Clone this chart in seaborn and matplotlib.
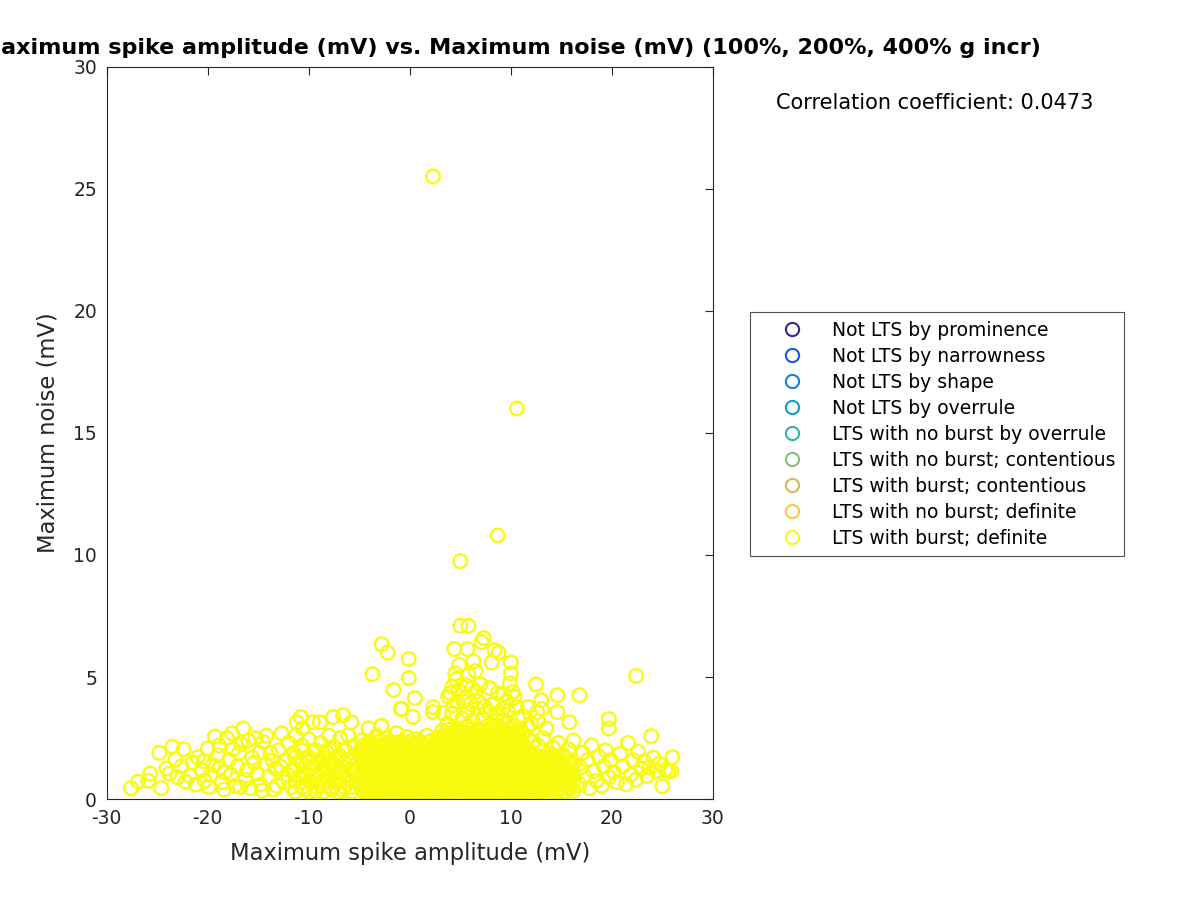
import pandas as pd
import seaborn as sns
import matplotlib.pyplot as plt
from matplotlib.lines import Line2D

# ------------------ data ------------------
# (spike amplitude mV, max noise mV)
far_left = [(-27.6, 0.45), (-26.9, 0.72), (-25.9, 0.75), (-25.7, 1.05), (-24.8, 1.9),
            (-24.6, 0.45), (-24.1, 1.26), (-23.8, 1.05), (-23.5, 2.15), (-23.2, 1.63),
            (-23.0, 0.9), (-22.4, 2.05), (-22.2, 0.72), (-22.6, 1.35), (-21.8, 0.95),
            (-21.5, 1.5), (-21.0, 1.72), (-21.2, 0.6), (-20.6, 1.2), (-20.3, 0.75),
            (-20.0, 2.08), (-20.4, 1.55), (-19.9, 0.5), (-19.7, 1.0)]

left = [(-19.3, 2.57), (-19.0, 1.8), (-18.8, 1.3), (-18.6, 0.7), (-18.4, 0.4), (-18.1, 2.5),
        (-17.9, 1.6), (-17.7, 1.0), (-17.6, 2.7), (-17.3, 0.55), (-17.1, 1.35), (-16.9, 1.9),
        (-16.7, 2.25), (-16.5, 2.9), (-16.3, 0.8), (-16.1, 1.2), (-15.8, 0.45), (-15.6, 1.7),
        (-15.3, 2.5), (-15.1, 1.05), (-14.8, 0.6), (-14.5, 2.34), (-14.3, 1.45), (-14.0, 0.9),
        (-13.8, 1.9), (-13.5, 0.4), (-13.3, 1.25), (-13.0, 2.0), (-12.7, 2.7), (-12.5, 0.7),
        (-12.3, 1.6), (-12.1, 1.0), (-12.0, 2.3), (-19.5, 1.4), (-18.9, 2.2), (-18.3, 1.1),
        (-17.5, 2.05), (-16.8, 0.5), (-16.0, 2.4), (-15.4, 1.5), (-14.9, 1.9), (-14.6, 0.35),
        (-14.2, 2.6), (-13.6, 1.6), (-13.2, 0.55), (-12.8, 1.35)]

center_left = [(-11.7, 0.5), (-11.6, 1.2), (-11.5, 1.9), (-11.3, 2.6), (-11.2, 3.15), (-11.0, 0.9),
               (-10.9, 1.55), (-10.8, 3.36), (-10.7, 2.2), (-10.6, 2.9), (-10.4, 0.4), (-10.3, 1.0),
               (-10.2, 1.7), (-10.0, 2.45), (-9.8, 0.7), (-9.7, 1.3), (-9.6, 3.15), (-9.5, 2.0),
               (-9.3, 0.35), (-9.2, 1.05), (-9.0, 1.6), (-8.9, 3.15), (-8.8, 2.3), (-8.6, 0.6),
               (-8.5, 1.35), (-8.3, 1.95), (-8.1, 0.9), (-8.0, 2.6), (-7.8, 0.4), (-7.7, 1.5),
               (-7.6, 3.36), (-7.5, 2.15), (-7.3, 1.1), (-7.2, 0.65), (-7.0, 1.8), (-6.9, 2.5),
               (-6.6, 3.44), (-6.6, 0.35), (-6.5, 1.3), (-6.4, 2.0), (-6.1, 2.62), (-6.1, 0.85),
               (-6.0, 1.6), (-5.8, 3.15), (-5.7, 0.5), (-5.6, 1.1), (-5.5, 2.2), (-5.3, 1.45),
               (-5.2, 0.75), (-5.1, 1.9)]

center_left_fill = [(-11.35, 0.3), (-11.35, 0.75), (-11.35, 1.2), (-11.35, 1.7),
                    (-10.65, 0.5), (-10.65, 0.95), (-10.65, 1.45), (-10.65, 2.0),
                    (-9.95, 0.3), (-9.95, 0.75), (-9.95, 1.2), (-9.95, 1.7),
                    (-9.25, 0.5), (-9.25, 0.95), (-9.25, 1.45), (-9.25, 2.0),
                    (-8.55, 0.3), (-8.55, 0.75), (-8.55, 1.2), (-8.55, 1.7),
                    (-7.85, 0.5), (-7.85, 0.95), (-7.85, 1.45), (-7.85, 2.0),
                    (-7.15, 0.3), (-7.15, 0.75), (-7.15, 1.2), (-7.15, 1.7),
                    (-6.45, 0.5), (-6.45, 0.95), (-6.45, 1.45), (-6.45, 2.0),
                    (-5.75, 0.3), (-5.75, 0.75), (-5.75, 1.2), (-5.75, 1.7)]

center = [(-4.8, 0.4), (-4.8, 0.75), (-4.8, 1.1), (-4.8, 1.5), (-4.8, 1.9), (-4.8, 2.4),
          (-4.3, 0.55), (-4.3, 0.9), (-4.3, 1.3), (-4.3, 1.7), (-4.3, 2.1), (-4.1, 2.9),
          (-3.8, 0.35), (-3.8, 0.7), (-3.8, 1.05), (-3.8, 1.45), (-3.8, 1.85), (-3.8, 2.3),
          (-3.3, 0.5), (-3.3, 0.85), (-3.3, 1.25), (-3.3, 1.65), (-3.3, 2.05), (-3.3, 2.6),
          (-2.8, 0.4), (-2.8, 0.75), (-2.8, 1.1), (-2.8, 1.5), (-2.8, 1.9), (-2.8, 3.0),
          (-2.3, 0.55), (-2.3, 0.95), (-2.3, 1.3), (-2.3, 1.7), (-2.3, 2.15), (-2.3, 2.5),
          (-1.8, 0.35), (-1.8, 0.7), (-1.8, 1.1), (-1.8, 1.45), (-1.8, 1.85), (-1.8, 2.3),
          (-1.3, 0.5), (-1.3, 0.9), (-1.3, 1.25), (-1.3, 1.65), (-1.3, 2.05), (-1.3, 2.7),
          (-0.8, 0.4), (-0.8, 0.75), (-0.8, 1.1), (-0.8, 1.5), (-0.8, 1.9), (-0.8, 2.35),
          (-0.3, 0.55), (-0.3, 0.9), (-0.3, 1.3), (-0.3, 1.7), (-0.3, 2.1), (-0.3, 2.55),
          (0.2, 0.35), (0.2, 0.7), (0.2, 1.05), (0.2, 1.45), (0.2, 1.85), (0.2, 2.25),
          (0.7, 0.5), (0.7, 0.85), (0.7, 1.25), (0.7, 1.6), (0.7, 2.0), (0.7, 2.45),
          (1.2, 0.4), (1.2, 0.75), (1.2, 1.15), (1.2, 1.5), (1.2, 1.9), (1.2, 2.3),
          (1.7, 0.55), (1.7, 0.9), (1.7, 1.3), (1.7, 1.7), (1.7, 2.1), (1.7, 2.6),
          (2.2, 0.35), (2.2, 0.7), (2.2, 1.1), (2.2, 1.45), (2.2, 1.85), (2.2, 2.4),
          (2.7, 0.5), (2.7, 0.9), (2.7, 1.25), (2.7, 1.65), (2.7, 2.05), (2.7, 2.5)]

center_fill = [(-4.55, 0.3), (-4.55, 0.6), (-4.55, 0.95), (-4.55, 1.3), (-4.55, 1.7), (-4.55, 2.1),
               (-4.05, 0.45), (-4.05, 0.8), (-4.05, 1.2), (-4.05, 1.55), (-4.05, 1.95), (-4.05, 2.35),
               (-3.55, 0.3), (-3.55, 0.6), (-3.55, 0.95), (-3.55, 1.3), (-3.55, 1.7), (-3.55, 2.1),
               (-3.05, 0.45), (-3.05, 0.8), (-3.05, 1.2), (-3.05, 1.55), (-3.05, 1.95), (-3.05, 2.35),
               (-2.55, 0.3), (-2.55, 0.6), (-2.55, 0.95), (-2.55, 1.3), (-2.55, 1.7), (-2.55, 2.1),
               (-2.05, 0.45), (-2.05, 0.8), (-2.05, 1.2), (-2.05, 1.55), (-2.05, 1.95), (-2.05, 2.35),
               (-1.55, 0.3), (-1.55, 0.6), (-1.55, 0.95), (-1.55, 1.3), (-1.55, 1.7), (-1.55, 2.1),
               (-1.05, 0.45), (-1.05, 0.8), (-1.05, 1.2), (-1.05, 1.55), (-1.05, 1.95), (-1.05, 2.35),
               (-0.55, 0.3), (-0.55, 0.6), (-0.55, 0.95), (-0.55, 1.3), (-0.55, 1.7), (-0.55, 2.1),
               (-0.05, 0.45), (-0.05, 0.8), (-0.05, 1.2), (-0.05, 1.55), (-0.05, 1.95), (-0.05, 2.35),
               (0.45, 0.3), (0.45, 0.6), (0.45, 0.95), (0.45, 1.3), (0.45, 1.7), (0.45, 2.1),
               (0.95, 0.45), (0.95, 0.8), (0.95, 1.2), (0.95, 1.55), (0.95, 1.95), (0.95, 2.35),
               (1.45, 0.3), (1.45, 0.6), (1.45, 0.95), (1.45, 1.3), (1.45, 1.7), (1.45, 2.1),
               (1.95, 0.45), (1.95, 0.8), (1.95, 1.2), (1.95, 1.55), (1.95, 1.95), (1.95, 2.35),
               (2.45, 0.3), (2.45, 0.6), (2.45, 0.95), (2.45, 1.3), (2.45, 1.7), (2.45, 2.1),
               (2.95, 0.45), (2.95, 0.8), (2.95, 1.2), (2.95, 1.55), (2.95, 1.95), (2.95, 2.35)]

center_right = [(3.2, 0.4), (3.2, 0.75), (3.2, 1.1), (3.2, 1.5), (3.2, 1.9), (3.2, 2.3), (3.2, 2.8),
                (3.7, 0.55), (3.7, 0.9), (3.7, 1.3), (3.7, 1.7), (3.7, 2.1), (3.7, 2.5), (3.7, 3.1),
                (4.2, 0.35), (4.2, 0.7), (4.2, 1.05), (4.2, 1.45), (4.2, 1.85), (4.2, 2.25), (4.2, 2.7), (4.2, 3.5),
                (4.7, 0.5), (4.7, 0.85), (4.7, 1.25), (4.7, 1.65), (4.7, 2.05), (4.7, 2.45), (4.7, 2.9), (4.7, 4.0),
                (5.2, 0.4), (5.2, 0.75), (5.2, 1.15), (5.2, 1.55), (5.2, 1.95), (5.2, 2.35), (5.2, 2.8), (5.2, 3.3),
                (5.7, 0.55), (5.7, 0.9), (5.7, 1.3), (5.7, 1.7), (5.7, 2.1), (5.7, 2.5), (5.7, 3.0), (5.7, 3.6),
                (6.2, 0.35), (6.2, 0.7), (6.2, 1.1), (6.2, 1.5), (6.2, 1.9), (6.2, 2.3), (6.2, 2.7), (6.2, 3.2),
                (6.7, 0.5), (6.7, 0.85), (6.7, 1.25), (6.7, 1.65), (6.7, 2.05), (6.7, 2.45), (6.7, 2.9), (6.7, 3.7),
                (7.2, 0.4), (7.2, 0.75), (7.2, 1.15), (7.2, 1.55), (7.2, 1.95), (7.2, 2.35), (7.2, 2.75), (7.2, 3.3),
                (7.7, 0.3), (7.7, 0.6), (7.7, 0.95), (7.7, 1.35), (7.7, 1.75), (7.7, 2.15), (7.7, 2.55), (7.7, 3.0), (7.7, 3.6),
                (8.2, 0.45), (8.2, 0.8), (8.2, 1.2), (8.2, 1.6), (8.2, 2.0), (8.2, 2.4), (8.2, 2.8), (8.2, 3.2),
                (8.7, 0.35), (8.7, 0.7), (8.7, 1.05), (8.7, 1.45), (8.7, 1.85), (8.7, 2.25), (8.7, 2.65), (8.7, 3.05), (8.7, 3.5),
                (9.2, 0.5), (9.2, 0.85), (9.2, 1.25), (9.2, 1.65), (9.2, 2.05), (9.2, 2.45), (9.2, 2.85), (9.2, 3.25),
                (9.7, 0.4), (9.7, 0.75), (9.7, 1.15), (9.7, 1.55), (9.7, 1.95), (9.7, 2.35), (9.7, 2.75), (9.7, 3.15), (9.7, 3.6),
                (10.2, 0.3), (10.2, 0.65), (10.2, 1.0), (10.2, 1.4), (10.2, 1.8), (10.2, 2.2), (10.2, 2.6), (10.2, 3.0),
                (10.7, 0.45), (10.7, 0.8), (10.7, 1.2), (10.7, 1.6), (10.7, 2.0), (10.7, 2.4), (10.7, 2.8), (10.7, 3.3)]

center_right_fill = [(3.45, 0.3), (3.45, 0.6), (3.45, 0.95), (3.45, 1.35), (3.45, 1.75), (3.45, 2.15), (3.45, 2.6),
                     (3.95, 0.45), (3.95, 0.8), (3.95, 1.15), (3.95, 1.55), (3.95, 1.95), (3.95, 2.4), (3.95, 2.85),
                     (4.45, 0.3), (4.45, 0.6), (4.45, 0.95), (4.45, 1.35), (4.45, 1.75), (4.45, 2.15), (4.45, 2.6),
                     (4.95, 0.45), (4.95, 0.8), (4.95, 1.15), (4.95, 1.55), (4.95, 1.95), (4.95, 2.4), (4.95, 2.85),
                     (5.45, 0.3), (5.45, 0.6), (5.45, 0.95), (5.45, 1.35), (5.45, 1.75), (5.45, 2.15), (5.45, 2.6),
                     (5.95, 0.45), (5.95, 0.8), (5.95, 1.15), (5.95, 1.55), (5.95, 1.95), (5.95, 2.4), (5.95, 2.85),
                     (6.45, 0.3), (6.45, 0.6), (6.45, 0.95), (6.45, 1.35), (6.45, 1.75), (6.45, 2.15), (6.45, 2.6),
                     (6.95, 0.45), (6.95, 0.8), (6.95, 1.15), (6.95, 1.55), (6.95, 1.95), (6.95, 2.4), (6.95, 2.85),
                     (7.45, 0.3), (7.45, 0.6), (7.45, 0.95), (7.45, 1.35), (7.45, 1.75), (7.45, 2.15), (7.45, 2.6),
                     (7.95, 0.45), (7.95, 0.8), (7.95, 1.15), (7.95, 1.55), (7.95, 1.95), (7.95, 2.4), (7.95, 2.85),
                     (8.45, 0.3), (8.45, 0.6), (8.45, 0.95), (8.45, 1.35), (8.45, 1.75), (8.45, 2.15), (8.45, 2.6),
                     (8.95, 0.45), (8.95, 0.8), (8.95, 1.15), (8.95, 1.55), (8.95, 1.95), (8.95, 2.4), (8.95, 2.85),
                     (9.45, 0.3), (9.45, 0.6), (9.45, 0.95), (9.45, 1.35), (9.45, 1.75), (9.45, 2.15), (9.45, 2.6),
                     (9.95, 0.45), (9.95, 0.8), (9.95, 1.15), (9.95, 1.55), (9.95, 1.95), (9.95, 2.4), (9.95, 2.85),
                     (10.45, 0.3), (10.45, 0.6), (10.45, 0.95), (10.45, 1.35), (10.45, 1.75), (10.45, 2.15), (10.45, 2.6),
                     (10.95, 0.45), (10.95, 0.8), (10.95, 1.15), (10.95, 1.55), (10.95, 1.95), (10.95, 2.4), (10.95, 2.85)]

dense_core = [(-4.68, 0.5), (-4.68, 0.9), (-4.68, 1.35), (-4.68, 1.8), (-4.68, 2.2),
              (-4.18, 0.35), (-4.18, 0.7), (-4.18, 1.1), (-4.18, 1.5), (-4.18, 1.95),
              (-3.68, 0.5), (-3.68, 0.9), (-3.68, 1.35), (-3.68, 1.8), (-3.68, 2.2),
              (-3.18, 0.35), (-3.18, 0.7), (-3.18, 1.1), (-3.18, 1.5), (-3.18, 1.95),
              (-2.68, 0.5), (-2.68, 0.9), (-2.68, 1.35), (-2.68, 1.8), (-2.68, 2.2),
              (-2.18, 0.35), (-2.18, 0.7), (-2.18, 1.1), (-2.18, 1.5), (-2.18, 1.95),
              (-1.68, 0.5), (-1.68, 0.9), (-1.68, 1.35), (-1.68, 1.8), (-1.68, 2.2),
              (-1.18, 0.35), (-1.18, 0.7), (-1.18, 1.1), (-1.18, 1.5), (-1.18, 1.95),
              (-0.68, 0.5), (-0.68, 0.9), (-0.68, 1.35), (-0.68, 1.8), (-0.68, 2.2),
              (-0.18, 0.35), (-0.18, 0.7), (-0.18, 1.1), (-0.18, 1.5), (-0.18, 1.95),
              (0.32, 0.5), (0.32, 0.9), (0.32, 1.35), (0.32, 1.8), (0.32, 2.2),
              (0.82, 0.35), (0.82, 0.7), (0.82, 1.1), (0.82, 1.5), (0.82, 1.95),
              (1.32, 0.5), (1.32, 0.9), (1.32, 1.35), (1.32, 1.8), (1.32, 2.2),
              (1.82, 0.35), (1.82, 0.7), (1.82, 1.1), (1.82, 1.5), (1.82, 1.95),
              (2.32, 0.5), (2.32, 0.9), (2.32, 1.35), (2.32, 1.8), (2.32, 2.2),
              (2.82, 0.35), (2.82, 0.7), (2.82, 1.1), (2.82, 1.5), (2.82, 1.95),
              (3.32, 0.5), (3.32, 0.9), (3.32, 1.35), (3.32, 1.8), (3.32, 2.2), (3.32, 2.6),
              (3.82, 0.35), (3.82, 0.7), (3.82, 1.1), (3.82, 1.5), (3.82, 1.95), (3.82, 2.6),
              (4.32, 0.5), (4.32, 0.9), (4.32, 1.35), (4.32, 1.8), (4.32, 2.2), (4.32, 2.6),
              (4.82, 0.35), (4.82, 0.7), (4.82, 1.1), (4.82, 1.5), (4.82, 1.95), (4.82, 2.6),
              (5.32, 0.5), (5.32, 0.9), (5.32, 1.35), (5.32, 1.8), (5.32, 2.2), (5.32, 2.6),
              (5.82, 0.35), (5.82, 0.7), (5.82, 1.1), (5.82, 1.5), (5.82, 1.95), (5.82, 2.6),
              (6.32, 0.5), (6.32, 0.9), (6.32, 1.35), (6.32, 1.8), (6.32, 2.2), (6.32, 2.6),
              (6.82, 0.35), (6.82, 0.7), (6.82, 1.1), (6.82, 1.5), (6.82, 1.95), (6.82, 2.6),
              (7.32, 0.5), (7.32, 0.9), (7.32, 1.35), (7.32, 1.8), (7.32, 2.2), (7.32, 2.6),
              (7.82, 0.35), (7.82, 0.7), (7.82, 1.1), (7.82, 1.5), (7.82, 1.95), (7.82, 2.6),
              (8.32, 0.5), (8.32, 0.9), (8.32, 1.35), (8.32, 1.8), (8.32, 2.2), (8.32, 2.6),
              (8.82, 0.35), (8.82, 0.7), (8.82, 1.1), (8.82, 1.5), (8.82, 1.95), (8.82, 2.6),
              (9.32, 0.5), (9.32, 0.9), (9.32, 1.35), (9.32, 1.8), (9.32, 2.2), (9.32, 2.6),
              (9.82, 0.35), (9.82, 0.7), (9.82, 1.1), (9.82, 1.5), (9.82, 1.95), (9.82, 2.6),
              (10.32, 0.5), (10.32, 0.9), (10.32, 1.35), (10.32, 1.8), (10.32, 2.2), (10.32, 2.6),
              (10.82, 0.35), (10.82, 0.7), (10.82, 1.1), (10.82, 1.5), (10.82, 1.95), (10.82, 2.6),
              (11.32, 0.5), (11.32, 0.9), (11.32, 1.35), (11.32, 1.8), (11.32, 2.2),
              (11.82, 0.35), (11.82, 0.7), (11.82, 1.1), (11.82, 1.5), (11.82, 1.95),
              (12.32, 0.5), (12.32, 0.9), (12.32, 1.35), (12.32, 1.8),
              (12.82, 0.35), (12.82, 0.7), (12.82, 1.1), (12.82, 1.5)]

right = [(11.2, 0.35), (11.2, 0.7), (11.2, 1.05), (11.2, 1.45), (11.2, 1.85), (11.2, 2.25), (11.2, 2.7),
         (11.7, 0.5), (11.7, 0.85), (11.7, 1.25), (11.7, 1.65), (11.7, 2.05), (11.7, 2.5), (11.7, 3.0),
         (12.2, 0.4), (12.2, 0.75), (12.2, 1.1), (12.2, 1.5), (12.2, 1.9), (12.2, 2.35),
         (12.7, 0.3), (12.7, 0.6), (12.7, 0.95), (12.7, 1.35), (12.7, 1.75), (12.7, 2.2), (12.7, 3.2),
         (13.2, 0.45), (13.2, 0.8), (13.2, 1.2), (13.2, 1.6), (13.2, 2.0), (13.2, 2.5),
         (13.7, 0.35), (13.7, 0.7), (13.7, 1.05), (13.7, 1.45), (13.7, 1.85),
         (14.2, 0.5), (14.2, 0.85), (14.2, 1.25), (14.2, 1.65), (14.2, 2.1),
         (14.7, 0.4), (14.7, 0.75), (14.7, 1.1), (14.7, 1.5), (14.7, 2.3),
         (15.2, 0.3), (15.2, 0.6), (15.2, 0.95), (15.2, 1.35), (15.2, 1.8),
         (15.7, 0.45), (15.7, 0.8), (15.7, 1.2), (15.7, 1.6), (15.7, 2.05),
         (16.2, 0.35), (16.2, 0.7), (16.2, 1.05), (16.2, 1.45), (16.2, 2.4)]

right_fill = [(11.45, 0.3), (11.45, 0.6), (11.45, 0.95), (11.45, 1.3), (11.45, 1.7),
              (11.95, 0.45), (11.95, 0.8), (11.95, 1.15), (11.95, 1.5),
              (12.45, 0.3), (12.45, 0.6), (12.45, 0.95), (12.45, 1.3), (12.45, 1.7),
              (12.95, 0.45), (12.95, 0.8), (12.95, 1.15), (12.95, 1.5),
              (13.45, 0.3), (13.45, 0.6), (13.45, 0.95), (13.45, 1.3), (13.45, 1.7),
              (13.95, 0.45), (13.95, 0.8), (13.95, 1.15), (13.95, 1.5),
              (14.45, 0.3), (14.45, 0.6), (14.45, 0.95), (14.45, 1.3), (14.45, 1.7),
              (14.95, 0.45), (14.95, 0.8), (14.95, 1.15), (14.95, 1.5),
              (15.45, 0.3), (15.45, 0.6), (15.45, 0.95), (15.45, 1.3), (15.45, 1.7),
              (15.95, 0.45), (15.95, 0.8), (15.95, 1.15), (15.95, 1.5)]

far_right = [(16.8, 0.6), (16.9, 1.3), (17.1, 1.9), (17.3, 0.95), (17.6, 1.6), (17.8, 0.45),
             (18.0, 2.2), (18.2, 1.15), (18.5, 0.75), (18.7, 1.75), (19.0, 0.55), (19.2, 1.35),
             (19.4, 2.0), (19.7, 0.9), (19.9, 1.6), (20.2, 1.1), (20.5, 0.7), (20.8, 1.85),
             (21.1, 1.35), (21.4, 0.61), (21.6, 2.3), (21.9, 1.0), (22.1, 1.6), (22.4, 0.8),
             (22.6, 1.95), (22.9, 1.25), (23.2, 1.55), (23.5, 0.95), (23.9, 2.58), (23.7, 1.3),
             (24.1, 1.7), (24.4, 1.15), (24.7, 1.45), (25.0, 0.53), (25.3, 1.2), (25.6, 1.15),
             (26.0, 1.72), (25.9, 1.15)]

upper = [(2.3, 25.5), (10.6, 16.0), (8.7, 10.8), (5.0, 9.75), (22.4, 5.05),
         (5.0, 7.1), (5.8, 7.1), (7.3, 6.6), (7.1, 6.43), (8.4, 6.1), (8.8, 6.0), (4.4, 6.15),
         (5.7, 6.15), (6.3, 5.65), (8.1, 5.6), (10.0, 5.6), (10.0, 5.15), (4.9, 5.5), (4.5, 5.15),
         (6.5, 5.25), (5.8, 5.08), (-0.1, 5.74), (-0.1, 4.96), (0.5, 4.14), (0.3, 3.37), (-0.8, 3.7),
         (4.2, 4.6), (4.0, 4.34), (4.3, 3.85), (2.3, 3.77), (2.3, 3.57), (3.3, 3.52), (5.6, 4.67),
         (5.6, 4.18), (6.5, 4.39), (7.9, 4.55), (8.7, 4.34), (10.2, 4.39), (10.4, 4.18), (9.9, 4.75),
         (10.6, 3.77), (11.7, 3.77), (12.6, 3.57), (12.5, 4.7), (13.0, 4.06), (13.1, 3.7), (14.6, 4.26),
         (16.8, 4.26), (14.6, 3.57), (15.8, 3.15), (19.7, 3.28), (19.7, 2.9), (-3.7, 5.12), (-2.8, 6.35),
         (-2.2, 6.0), (-1.6, 4.47), (-0.9, 3.7), (-2.8, 3.0),
         (4.6, 4.9), (4.8, 4.45), (5.3, 4.0), (6.0, 3.9), (6.8, 4.0), (7.4, 3.8), (7.0, 4.7),
         (8.3, 3.9), (9.2, 3.7), (9.6, 4.0), (11.2, 3.4), (12.0, 3.1), (13.5, 2.9), (3.8, 4.2),
         (6.2, 4.55), (9.3, 4.3)]

categories = ['Not LTS by prominence', 'Not LTS by narrowness', 'Not LTS by shape',
              'Not LTS by overrule', 'LTS with no burst by overrule',
              'LTS with no burst; contentious', 'LTS with burst; contentious',
              'LTS with no burst; definite', 'LTS with burst; definite']
cat_colors = ['#352A87', '#0F5CDD', '#1481D6', '#06A4CA', '#2EB7A4',
              '#87BF77', '#D1BB59', '#FEC832', '#F9FB0E']
corr_coef = 0.0473

pts = (far_left + left + center_left + center_left_fill + center + center_fill
       + center_right + center_right_fill + dense_core + right + right_fill + far_right + upper)
df = pd.DataFrame(pts, columns=['amp', 'noise'])
df['cls'] = 'LTS with burst; definite'

# ------------------ plot ------------------
sns.set_style('white')
plt.rcParams['font.family'] = ['DejaVu Sans']
plt.rcParams['axes.unicode_minus'] = False
fig = plt.figure(figsize=(12, 9), dpi=100)
ax = fig.add_axes([0.089, 0.112, 0.505, 0.814])

sns.scatterplot(data=df, x='amp', y='noise', ax=ax, marker='o', s=95,
                facecolors='none', edgecolor=cat_colors[-1], linewidth=1.7, legend=False)

ax.set_xlim(-30, 30)
ax.set_ylim(0, 30)
ax.set_xticks(range(-30, 31, 10))
ax.set_yticks(range(0, 31, 5))
ax.tick_params(direction='in', top=True, right=True, length=6, width=0.8,
               labelsize=13.5, colors='#262626', pad=7)
for sp in ax.spines.values():
    sp.set_color('#262626')
    sp.set_linewidth(0.8)
ax.set_xlabel('Maximum spike amplitude (mV)', fontsize=16.3, color='#262626', labelpad=10)
ax.set_ylabel('Maximum noise (mV)', fontsize=16.3, color='#262626', labelpad=10)
# title is wider than the figure's left margin, so it runs off the left edge as in the original
ax.set_title('Maximum spike amplitude (mV) vs. Maximum noise (mV) (100%, 200%, 400% g incr)',
             fontsize=16.0, fontweight='bold', color='black', pad=9, x=0.666)

fig.text(0.647, 0.886, f'Correlation coefficient: {corr_coef}', fontsize=15,
         va='center', ha='left', color='black')

handles = [Line2D([], [], linestyle='none', marker='o', markersize=9.5,
                  markerfacecolor='none', markeredgecolor=c, markeredgewidth=1.5)
           for c in cat_colors]
leg = fig.legend(handles, categories, loc='upper left', bbox_to_anchor=(0.625, 0.653),
                 fontsize=13.5, frameon=True, fancybox=False, edgecolor='#262626',
                 borderpad=0.45, labelspacing=0.375, handlelength=3.6, handletextpad=0.3,
                 borderaxespad=0, labelcolor='black')
leg.get_frame().set_linewidth(0.8)

fig.savefig('out.png', dpi=100)
